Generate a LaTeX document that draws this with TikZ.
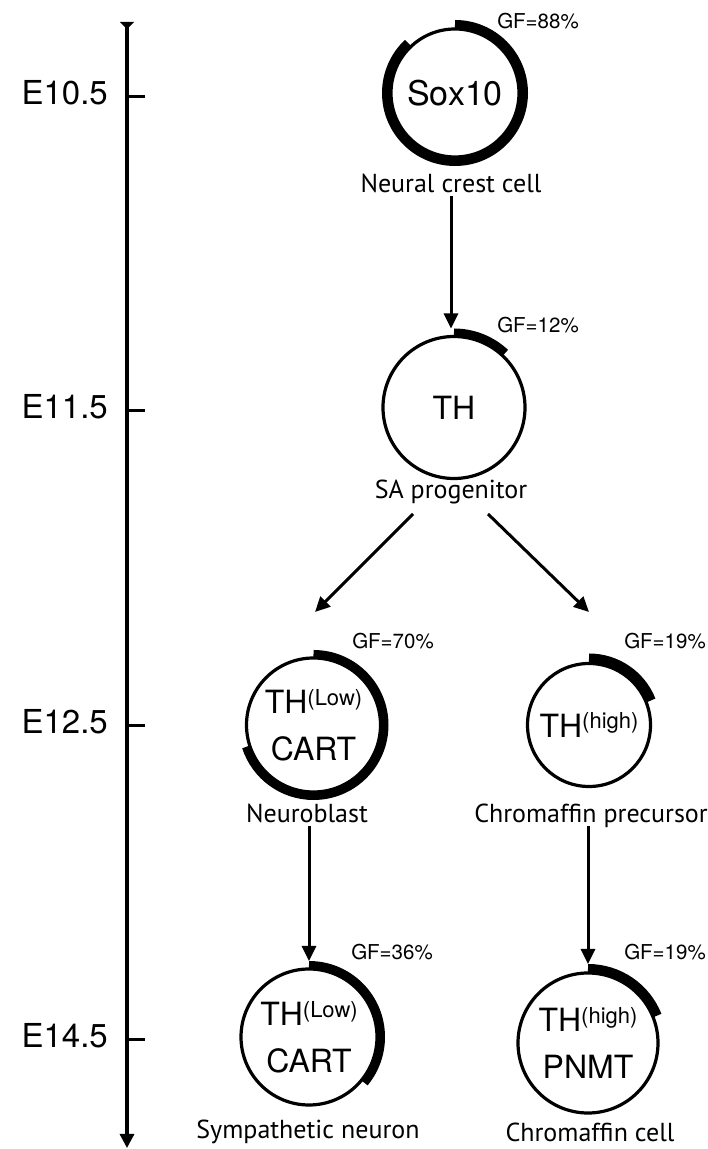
\documentclass[tikz,border=0pt]{standalone}
\usepackage{fontspec}
\setmainfont{TeX Gyre Heros}
\newfontfamily\namefont{PT Sans}
\usetikzlibrary{positioning, arrows.meta}
\newcommand{\hi}[1]{\raisebox{0.26em}{\fontsize{22}{22}\selectfont #1}}

\begin{document}
\begin{tikzpicture}[
  x=1pt, y=1pt,
  every node/.style={inner sep=0pt},
  cell/.style 2 args={circle, draw, line width=3.2pt, minimum size=#1, outer sep=#2,
    align=center, font=\fontsize{32}{47}\selectfont},
  cellname/.style={font=\namefont\fontsize{26}{26}\selectfont, text depth=.25em, anchor=base},
  gf/.style={font=\fontsize{20.5}{20}\selectfont},
  stage/.style={font=\fontsize{33}{33}\selectfont, anchor=east},
  arr/.style={line width=3pt, -{Triangle[length=15pt, width=14pt]}},
]
\useasboundingbox (0,0) rectangle (708,1149);

% time axis
\coordinate (top) at (127,1127);
\coordinate (bot) at (127,1);
\draw[line width=3.2pt, {Triangle[reversed, length=7pt, width=14pt]}-{Triangle[length=14pt, width=14pt]}] (top) -- (bot);
\foreach \y/\t [count=\i] in {1052/E10.5, 738/E11.5, 423/E12.5, 109/E14.5} {
  \coordinate (k\i) at (127,\y);
  \draw[line width=3pt] (k\i) -- ++(18,0);
  \node[stage] (e\i) at (108,\y+4.5) {\t};
}

% cells
\node[cell={128pt}{9pt}, font=\fontsize{34}{34}\selectfont] (cNC) at (455,1056) {Sox10};
\node[cellname] (lNC) at (451,956) {Neural crest cell};
\node[gf] (gNC) at (538,1128) {GF=88\%};

\node[cell={142pt}{8pt}] (cSA) at (454,741.5) {TH};
\node[cellname] (lSA) at (451,650) {SA progenitor};
\node[gf] (gSA) at (538,824) {GF=12\%};

\node[cell={134pt}{8pt}] (cNB) at (313.5,424) {TH\hi{(Low)}\\CART};
\node[cellname] (lNB) at (307,326) {Neuroblast};
\node[gf] (gNB) at (393,508) {GF=70\%};

\node[cell={123pt}{10pt}] (cCP) at (589,424) {TH\hi{(high)}};
\node[cellname] (lCP) at (591,326) {Chromaffin precursor};
\node[gf] (gCP) at (665,508) {GF=19\%};

\node[cell={136pt}{8pt}] (cSN) at (309,112) {TH\hi{(Low)}\\CART};
\node[cellname] (lSN) at (308,10) {Sympathetic neuron};
\node[gf] (gSN) at (392,197) {GF=36\%};

\node[cell={140pt}{9pt}] (cCC) at (588,106) {TH\hi{(high)}\\PNMT};
\node[cellname] (lCC) at (590,8) {Chromaffin cell};
\node[gf] (gCC) at (665,197) {GF=19\%};

% growth fraction arcs
\foreach \n/\r/\w/\p in {cNC/64/9/88, cSA/71/8/12, cNB/67/8/70, cCP/61.5/10/19, cSN/68/8/36, cCC/70/9/19}
  \draw[line width=\w pt] (\n.center) ++(90:{(\r+0.5*\w)*1pt})
    arc[start angle=90, delta angle={-3.6*\p}, radius={(\r+0.5*\w)*1pt}];

% lineage
\coordinate (sL) at (413,635);
\coordinate (tL) at (315,537);
\coordinate (sR) at (488,635);
\coordinate (tR) at (589,537);
\draw[arr] (lNC.south) -- (lNC.south |- cSA.north);
\draw[arr] (sL) -- (tL);
\draw[arr] (sR) -- (tR);
\draw[arr] (cSN.north |- lNB.south) -- (cSN.north);
\draw[arr] (cCC.north |- lCP.south) -- (cCC.north);
\end{tikzpicture}
\end{document}
